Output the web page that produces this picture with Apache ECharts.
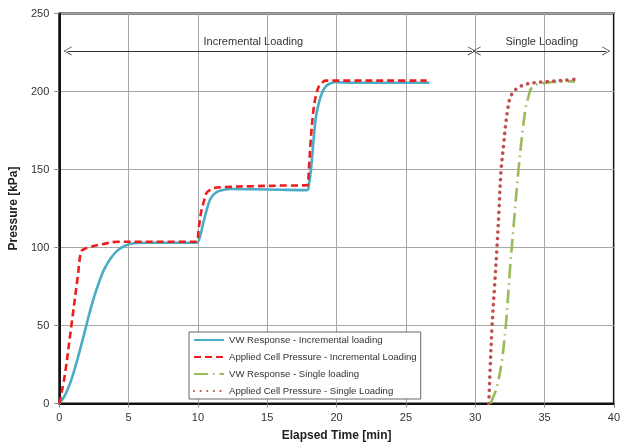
<!DOCTYPE html>
<html>
<head>
<meta charset="utf-8">
<script src="https://cdn.jsdelivr.net/npm/echarts@6/dist/echarts.min.js"></script>
<style>
  html, body { margin: 0; padding: 0; background: #fff; }
  #chart { width: 623px; height: 448px; }
</style>
</head>
<body>
<div id="chart"></div>
<script>
// series names
var names = [
    'VW Response - Incremental loading',
    'Applied Cell Pressure - Incremental Loading',
    'VW Response - Single loading',
    'Applied Cell Pressure - Single Loading'
]

// VW response, incremental loading
var vwIncTime = [0, 0.4, 0.86, 1.3, 1.81, 2.15, 2.52, 2.9, 3.24, 3.7, 4.19, 4.7, 5.38, 6.5, 8, 9.9, 10.15, 10.38, 10.6, 10.86, 11.2, 11.57, 12.29, 14, 16, 17.88, 18.0, 18.12, 18.24, 18.36, 18.5, 18.71, 18.95, 19.19, 19.5, 19.9, 21, 24, 26.7]
var vwIncP = [0, 5, 15, 28, 45, 57, 68.5, 78.5, 86, 93, 98, 101, 102.7, 103, 103, 103, 107, 115.5, 123, 130.4, 134.5, 136.4, 137.5, 137.3, 137, 136.8, 140, 147.6, 158, 171, 183, 192.4, 199, 203, 205, 205.9, 205.6, 205.6, 205.6]

// applied cell pressure, incremental loading
var appIncTime = [0, 0.38, 0.86, 1.33, 1.57, 1.8, 2.29, 3.2, 4.19, 6, 8, 9.9, 10.05, 10.26, 10.45, 10.6, 10.85, 11.1, 12, 14, 16, 17.88, 18.0, 18.12, 18.24, 18.36, 18.5, 18.71, 18.95, 19.19, 19.6, 21, 24, 26.5]
var appIncP = [0, 17, 49, 81, 97.3, 99, 100.5, 102.3, 103.7, 103.7, 103.7, 103.7, 112, 124, 130, 134.7, 136.8, 138, 138.8, 139.3, 139.7, 140, 150, 166.8, 180, 190, 197, 203, 205.5, 207, 207, 207, 207, 207]

// VW response, single loading
var vwSinTime = [31.1, 31.21, 31.57, 31.93, 32.24, 32.52, 32.76, 33.12, 33.6, 33.85, 34.02, 34.4, 35, 35.86, 36.6, 37.2]
var vwSinP = [0, 2.2, 10.8, 27.8, 53.5, 87.7, 113, 149.7, 187.7, 197, 201.8, 204.5, 205.5, 206.3, 206.5, 206.5]

// applied cell pressure, single loading
var appSinTime = [30.98, 31.05, 31.21, 31.4, 31.57, 31.72, 31.86, 32.05, 32.17, 32.33, 32.52, 32.88, 33.3, 33.71, 34.4, 35.14, 36.2, 37.17]
var appSinP = [0, 17, 49, 76, 100.3, 125, 149.3, 166, 177, 187.7, 196, 201, 203.5, 204.8, 205.8, 206.3, 207, 207.8]

// annotation arrows: [start, end, y]
var incArrow = [0.6, 29.75, 226]
var sinArrow = [30.1, 39.45, 226]
var labels = [
    {text: 'Incremental Loading', x: 14, y: 231.5},
    {text: 'Single Loading', x: 34.8, y: 231.5}
]

function pairs(xs, ys) {
    return xs.map(function (x, i) { return [x, ys[i]] })
}

var chevron = 'path://M5,0 L10,10 L9,10 L5,1.6 L1,10 L0,10 Z'
var font = 'Liberation Sans'

var myChart = echarts.init(document.getElementById('chart'), null, {renderer: 'canvas'})
myChart.setOption({
    animation: false,
    textStyle: {fontFamily: font},
    grid: {
        left: 58, right: 5, top: 13.5, bottom: 44.5,
        show: true, borderColor: '#111', borderWidth: 2
    },
    legend: {
        data: names,
        orient: 'vertical',
        left: 189, top: 332,
        padding: [3, 4, 3, 4],
        itemGap: 7,
        itemWidth: 30, itemHeight: 12,
        backgroundColor: '#fff',
        borderColor: '#666', borderWidth: 1,
        itemStyle: {opacity: 0},
        textStyle: {fontSize: 9.6, color: '#333', fontFamily: font}
    },
    xAxis: {
        type: 'value', min: 0, max: 40, interval: 5,
        name: 'Elapsed Time [min]', nameLocation: 'middle', nameGap: 26,
        nameTextStyle: {fontSize: 12, fontWeight: 'bold', color: '#222'},
        axisLine: {show: true, lineStyle: {color: '#111', width: 2}},
        axisTick: {show: true, length: 4, lineStyle: {color: '#888'}},
        axisLabel: {fontSize: 11, color: '#333', margin: 9},
        splitLine: {show: true, lineStyle: {color: '#a6a6a6', width: 1}}
    },
    yAxis: {
        type: 'value', min: 0, max: 250, interval: 50,
        name: 'Pressure [kPa]', nameLocation: 'middle', nameGap: 36,
        nameTextStyle: {fontSize: 12, fontWeight: 'bold', color: '#222'},
        axisLine: {show: true, lineStyle: {color: '#111', width: 2}},
        axisTick: {show: true, length: 5, lineStyle: {color: '#888'}},
        axisLabel: {fontSize: 11, color: '#333', margin: 10},
        splitLine: {show: true, lineStyle: {color: '#a6a6a6', width: 1}}
    },
    series: [
        {
            name: names[0], type: 'line', data: pairs(vwIncTime, vwIncP),
            symbol: 'none', smooth: 0.35,
            color: '#4bacc6',
            lineStyle: {color: '#4bacc6', width: 2.6}
        },
        {
            name: names[1], type: 'line', data: pairs(appIncTime, appIncP),
            symbol: 'none', smooth: 0.35,
            color: '#ee1c1c',
            lineStyle: {color: '#ee1c1c', width: 2.6, type: [7, 4]}
        },
        {
            name: names[2], type: 'line', data: pairs(vwSinTime, vwSinP),
            symbol: 'none', smooth: 0.35,
            color: '#9bbb59',
            lineStyle: {color: '#9bbb59', width: 2.6, type: [14, 5, 1.5, 5]}
        },
        {
            name: names[3], type: 'line', data: pairs(appSinTime, appSinP),
            symbol: 'none', smooth: 0.35,
            color: '#c0504d', z: 3,
            lineStyle: {color: '#c0504d', width: 3.6, type: [0.1, 6.5], cap: 'round'}
        },
        {
            name: 'annotations', type: 'line', data: [],
            markLine: {
                silent: true, animation: false,
                symbol: [chevron, chevron], symbolSize: [9, 8],
                lineStyle: {color: '#333', width: 1, type: 'solid'},
                label: {show: false},
                data: [
                    [{coord: [incArrow[0], incArrow[2]]}, {coord: [incArrow[1], incArrow[2]]}],
                    [{coord: [sinArrow[0], sinArrow[2]]}, {coord: [sinArrow[1], sinArrow[2]]}]
                ]
            },
            markPoint: {
                silent: true, symbol: 'circle', symbolSize: 1,
                itemStyle: {color: 'rgba(0,0,0,0)'},
                label: {show: true, position: 'inside', fontSize: 11, color: '#333', fontFamily: font,
                    formatter: function (p) { return p.name }},
                data: labels.map(function (l) {
                    return {name: l.text, coord: [l.x, l.y], value: 0}
                })
            }
        }
    ]
})
</script>
</body>
</html>
